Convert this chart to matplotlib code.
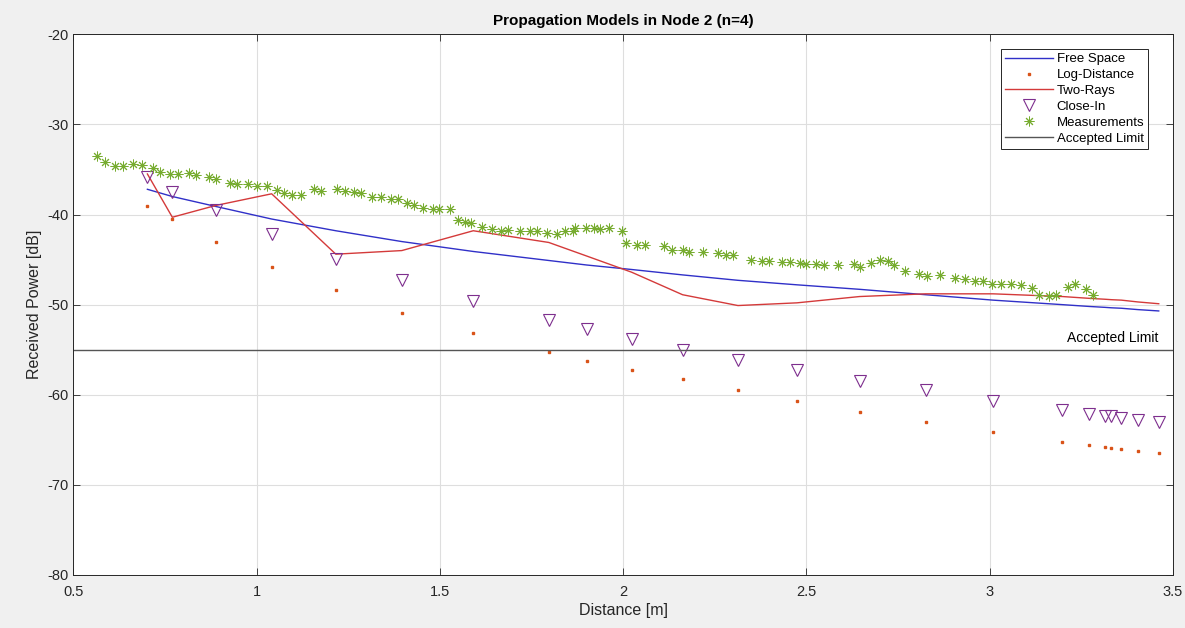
import matplotlib.pyplot as plt
import numpy as np

plt.rcParams['font.family'] = ['Liberation Sans', 'DejaVu Sans']
plt.rcParams['axes.unicode_minus'] = False

# distances of the model points [m]
dist = [0.702, 0.770, 0.888, 1.041, 1.216, 1.396, 1.591, 1.797, 1.900, 2.023, 2.162, 2.313,
        2.474, 2.645, 2.825, 3.009, 3.198, 3.271, 3.314, 3.332, 3.359, 3.404, 3.461]
free_space = [-37.2, -38.0, -39.1, -40.5, -41.8, -43.0, -44.1, -45.1, -45.6, -46.1, -46.7, -47.3,
              -47.8, -48.3, -48.9, -49.5, -50.0, -50.2, -50.3, -50.35, -50.4, -50.55, -50.7]
log_distance = [-39.0, -40.5, -43.0, -45.8, -48.4, -50.9, -53.1, -55.2, -56.2, -57.3, -58.3, -59.5,
                -60.7, -61.9, -63.0, -64.1, -65.2, -65.6, -65.8, -65.9, -66.0, -66.2, -66.5]
two_rays = [-35.5, -40.3, -39.0, -37.7, -44.4, -44.0, -41.8, -43.1, -44.6, -46.4, -48.9, -50.1,
            -49.8, -49.1, -48.8, -48.8, -49.1, -49.3, -49.4, -49.45, -49.5, -49.7, -49.9]
close_in = [-35.8, -37.5, -39.5, -42.2, -44.9, -47.3, -49.6, -51.7, -52.7, -53.8, -55.0, -56.1,
            -57.3, -58.5, -59.5, -60.7, -61.7, -62.1, -62.4, -62.4, -62.6, -62.8, -63.0]

# measurements
meas_d = [0.564, 0.586, 0.614, 0.636, 0.664, 0.687, 0.718, 0.736, 0.764, 0.786, 0.816, 0.835,
          0.871, 0.889, 0.927, 0.946, 0.977, 1.000, 1.027, 1.055, 1.075, 1.097, 1.120, 1.157,
          1.175, 1.218, 1.241, 1.265, 1.286, 1.316, 1.339, 1.366, 1.386, 1.409, 1.429, 1.453,
          1.480, 1.498, 1.527, 1.550, 1.568, 1.586, 1.616, 1.641, 1.668, 1.686, 1.718, 1.745,
          1.765, 1.791, 1.820, 1.841, 1.862, 1.868, 1.898, 1.920, 1.938, 1.962, 1.996, 2.007,
          2.038, 2.059, 2.111, 2.132, 2.163, 2.180, 2.218, 2.259, 2.280, 2.300, 2.350, 2.380,
          2.398, 2.432, 2.454, 2.482, 2.498, 2.527, 2.547, 2.586, 2.629, 2.647, 2.677, 2.700,
          2.723, 2.738, 2.768, 2.807, 2.829, 2.865, 2.904, 2.932, 2.959, 2.982, 3.007, 3.032,
          3.059, 3.084, 3.114, 3.134, 3.162, 3.180, 3.213, 3.232, 3.262, 3.282]
meas_p = [-33.50, -34.13, -34.57, -34.61, -34.39, -34.53, -34.86, -35.27, -35.49, -35.49, -35.42, -35.60,
          -35.86, -36.01, -36.52, -36.63, -36.63, -36.79, -36.79, -37.26, -37.56, -37.82, -37.82, -37.19,
          -37.34, -37.15, -37.34, -37.45, -37.56, -38.07, -38.07, -38.29, -38.29, -38.67, -38.96, -39.29,
          -39.40, -39.40, -39.37, -40.59, -40.84, -40.95, -41.33, -41.62, -41.88, -41.77, -41.88, -41.88,
          -41.88, -42.06, -42.14, -41.88, -41.88, -41.51, -41.51, -41.51, -41.62, -41.51, -41.88, -43.17,
          -43.36, -43.43, -43.47, -43.91, -43.99, -44.16, -44.16, -44.27, -44.46, -44.46, -45.09, -45.20,
          -45.20, -45.32, -45.32, -45.38, -45.49, -45.49, -45.57, -45.57, -45.46, -45.83, -45.38, -45.09,
          -45.20, -45.57, -46.31, -46.60, -46.79, -46.68, -47.04, -47.15, -47.42, -47.42, -47.67, -47.67,
          -47.67, -47.79, -48.15, -48.89, -49.00, -48.89, -48.08, -47.71, -48.26, -48.89]

limit = -55

fig = plt.figure(figsize=(11.85, 6.28), dpi=100, facecolor='#f0f0f0')
ax = fig.add_axes([0.0619, 0.0844, 0.928, 0.861])

ax.plot(dist, free_space, color='#3030c8', lw=1, label='Free Space')
ax.plot(dist, log_distance, ls='none', marker='s', ms=2, color='#d95319', label='Log-Distance')
ax.plot(dist, two_rays, color='#d43a3a', lw=1, label='Two-Rays')
ax.plot(dist, close_in, ls='none', marker='v', ms=9, mfc='none', mec='#7e2f8e', mew=0.8, label='Close-In')
ax.plot(meas_d, meas_p, ls='none', marker=(8, 2, 0), ms=7, mec='#77ac30', mew=0.7, label='Measurements')
ax.axhline(limit, color='#555555', lw=1, label='Accepted Limit')
ax.text(3.46, limit + 0.5, 'Accepted Limit', ha='right', va='bottom', fontsize=10)

ax.set_xlim(0.5, 3.5)
ax.set_ylim(-80, -20)
ax.set_xticks(np.arange(0.5, 3.51, 0.5))
ax.set_xticklabels(['0.5', '1', '1.5', '2', '2.5', '3', '3.5'])
ax.set_yticks(range(-80, -19, 10))
ax.grid(True, color='#dedede', lw=0.8)
ax.set_axisbelow(True)
ax.tick_params(direction='in', top=True, right=True, length=5, width=0.6, colors='#262626', labelsize=10.5)
ax.tick_params(axis='x', pad=7)
for s in ax.spines.values():
    s.set_color('#262626')
    s.set_linewidth(0.7)

ax.set_xlabel('Distance [m]', fontsize=11.5, color='#262626', labelpad=3)
ax.set_ylabel('Received Power [dB]', fontsize=11.5, color='#262626')
ax.set_title('Propagation Models in Node 2 (n=4)', fontsize=11, fontweight='bold', pad=7)

leg = ax.legend(loc='upper right', fontsize=9.5, fancybox=False, framealpha=1, edgecolor='#262626',
                handlelength=3.6, handletextpad=0.3, labelspacing=0.28, borderpad=0.3,
                bbox_to_anchor=(0.9835, 0.985))
leg.get_frame().set_linewidth(0.7)

fig.savefig('out.png', dpi=100, facecolor=fig.get_facecolor())
